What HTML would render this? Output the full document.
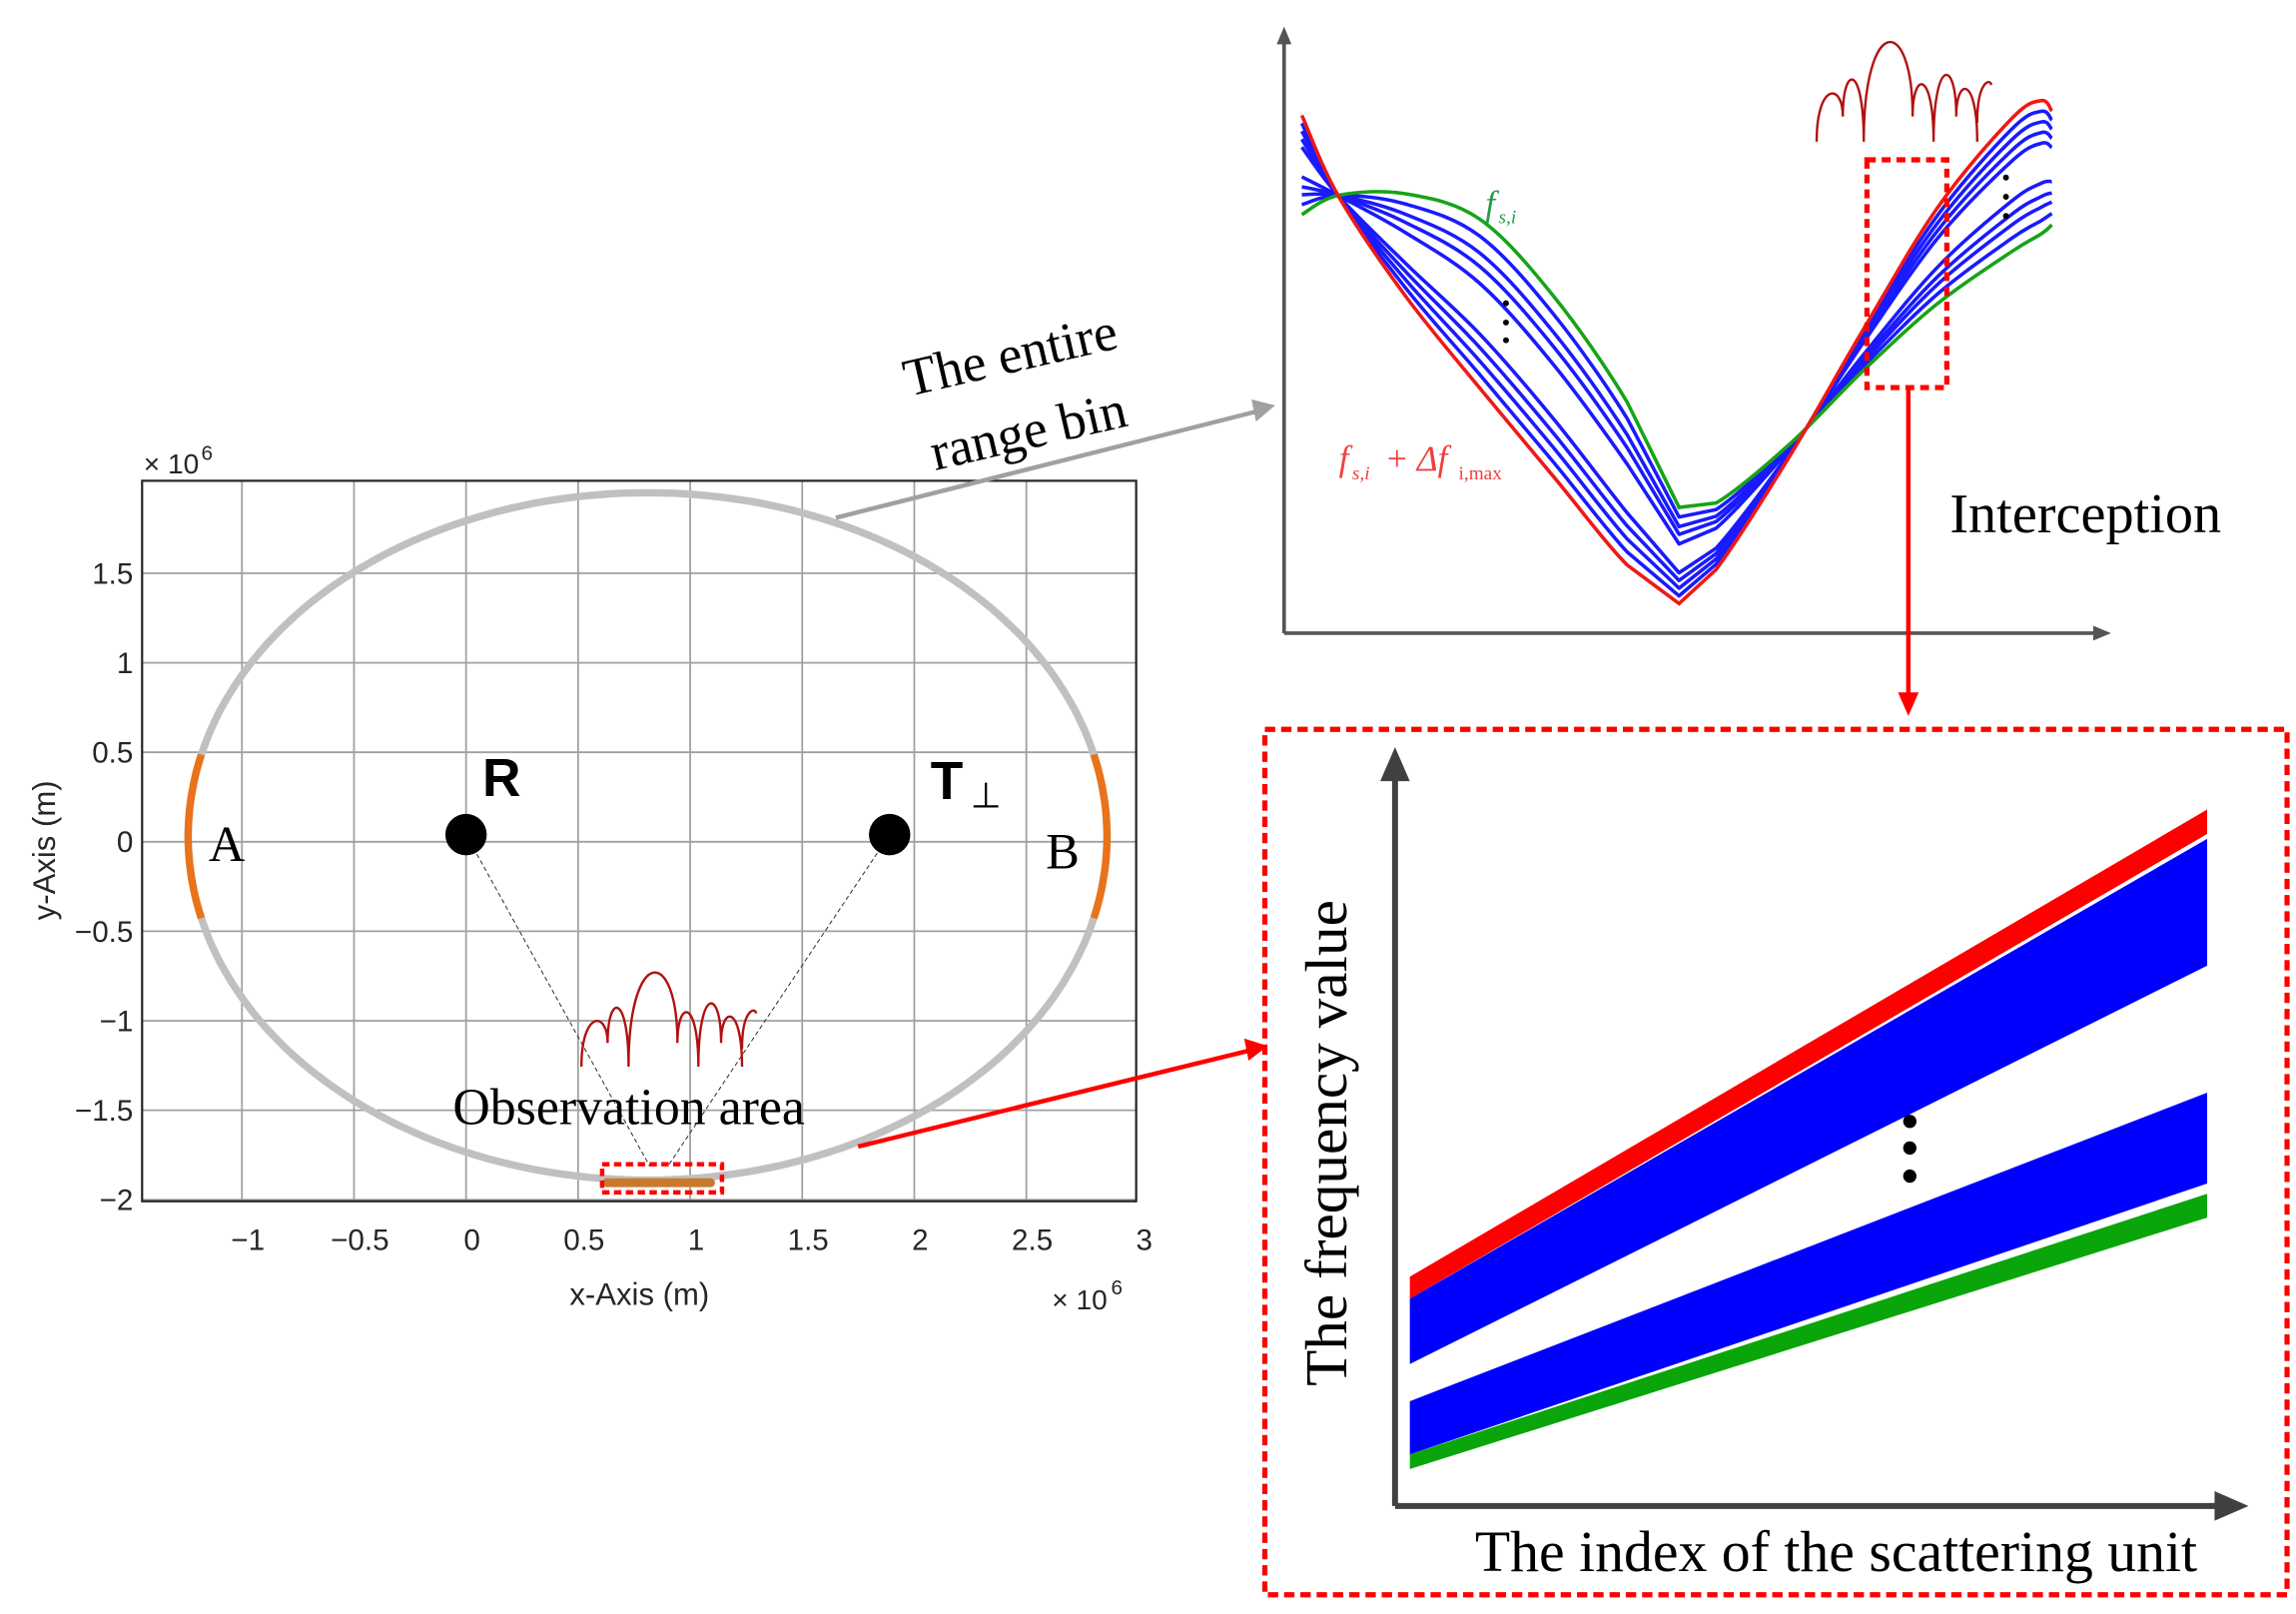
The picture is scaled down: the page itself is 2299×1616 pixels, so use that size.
<!DOCTYPE html>
<html><head><meta charset="utf-8"><style>
html,body{margin:0;padding:0;background:#fff;}
svg{display:block;}
.tk{font-family:"Liberation Sans",sans-serif;}
.sf{font-family:"Liberation Serif",serif;}
</style></head><body>
<svg id="fig" width="2299" height="1616" viewBox="0 0 1552 1091" xmlns="http://www.w3.org/2000/svg">
<g id="left"></g>
<g id="topr"></g>
<g id="botr"></g>
<g id="ann"></g>
</svg>
<script>
const NS="http://www.w3.org/2000/svg";
function mk(p,tag,at,txt){const e=document.createElementNS(NS,tag);for(const k in at)e.setAttribute(k,at[k]);if(txt!==undefined)e.textContent=txt;p.appendChild(e);return e;}

// ---------- left chart data ----------
const xTicks=[-1,-0.5,0,0.5,1,1.5,2,2.5,3];
const xTickLabels=["\u22121","\u22120.5","0","0.5","1","1.5","2","2.5","3"];
const yTicks=[-2,-1.5,-1,-0.5,0,0.5,1,1.5];
const yTickLabels=["\u22122","\u22121.5","\u22121","\u22120.5","0","0.5","1","1.5"];
const ellipseCenter=[0.81,0.03];
const ellipseAxes=[2.05,1.92];
const stationNames=["R","T"];
const stationX=[0,1.89];
const stationY=[0.04,0.04];
const obsCenter=[0.86,-1.88];

const xs=v=>315+v*151.5, ys=v=>569-v*121;
const L=document.getElementById('left');
const A=document.getElementById('ann');
function T(p,x,y,s,cls,st,extra,name){const e=mk(p,'text',Object.assign({x:x,y:y,class:cls,style:st},extra||{}),s);return e;}

xTicks.forEach(t=>{if(t<3){const g=mk(L,'line',{x1:xs(t),x2:xs(t),y1:325,y2:812,stroke:'#a0a0a0','stroke-width':1.2});
}});
yTicks.forEach(t=>{const g=mk(L,'line',{x1:96,x2:768,y1:ys(t),y2:ys(t),stroke:'#a0a0a0','stroke-width':1.2});
});
const fr=mk(L,'rect',{x:96,y:325,width:672,height:487,fill:'none',stroke:'#262626','stroke-width':1.5});

xTicks.forEach((t,i)=>{T(L,xs(t)+4,845,xTickLabels[i],'tk','font-size:20px;fill:#262626',{'text-anchor':'middle'},'x-tick-label');});
yTicks.forEach((t,i)=>{T(L,90,ys(t)+7,yTickLabels[i],'tk','font-size:20px;fill:#262626',{'text-anchor':'end'},'y-tick-label');});

function ept(a){return [xs(ellipseCenter[0]+ellipseAxes[0]*Math.cos(a)),ys(ellipseCenter[1]+ellipseAxes[1]*Math.sin(a))];}
let d='';for(let i=0;i<=200;i++){const p=ept(i/200*2*Math.PI);d+=(i?'L':'M')+p[0].toFixed(1)+','+p[1].toFixed(1);}
const el=mk(L,'path',{d:d+'Z',fill:'none',stroke:'#c0c0c0','stroke-width':5});

function arc(a0,a1){let s='';for(let i=0;i<=30;i++){const p=ept(a0+(a1-a0)*i/30);s+=(i?'L':'M')+p[0].toFixed(1)+','+p[1].toFixed(1);}return s;}
const aA=mk(L,'path',{d:arc(Math.PI-0.24,Math.PI+0.24),fill:'none',stroke:'#e8731a','stroke-width':5});

const aB=mk(L,'path',{d:arc(-0.24,0.24),fill:'none',stroke:'#e8731a','stroke-width':5});

const ox=xs(obsCenter[0]), oy=ys(obsCenter[1]);
stationX.forEach((sx,i)=>{const l=mk(L,'line',{x1:xs(sx),y1:ys(stationY[i]),x2:ox+(i?6:-6),y2:oy-8,stroke:'#333','stroke-width':0.7,'stroke-dasharray':'3,2'});
});
stationX.forEach((sx,i)=>{const c=mk(L,'ellipse',{cx:xs(sx),cy:ys(stationY[i]),rx:14,ry:14,fill:'#000'});
});
const ob=mk(L,'line',{x1:ox-35,y1:oy+3,x2:ox+35,y2:oy+3,stroke:'#c77a2e','stroke-width':6,'stroke-linecap':'round'});

const orr=mk(L,'rect',{x:407,y:787,width:81,height:19,fill:'none',stroke:'#f00','stroke-width':3,'stroke-dasharray':'5,3'});


function lobes(p,x0,y0,w,h){const segs=[[0,0.15,0.45],[0.15,0.27,0.6],[0.27,0.55,1],[0.55,0.67,0.55],[0.67,0.8,0.65],[0.8,0.92,0.5]];
let s='';segs.forEach((g,i)=>{const a=x0+g[0]*w,b=x0+g[1]*w,top=y0+h-h*g[2];const bot=y0+h*(i%2?0.75:0.95);
s+=`M${a},${bot} C${a},${top-6} ${b},${top-6} ${b},${y0+h*(i%2?0.95:0.75)} `;});
s+=`M${x0+0.92*w},${y0+h*0.8} C${x0+0.92*w},${y0+h*0.45} ${x0+w},${y0+h*0.45} ${x0+w},${y0+h*0.5}`;
return mk(p,'path',{d:s,fill:'none',stroke:'#b01010','stroke-width':1.6});}
const lp1=lobes(L,393,645,118,80);

T(A,97,320,'\u00d7 10','tk','font-size:19px;fill:#262626',{},'y-exponent');T(A,136,311,'6','tk','font-size:14px;fill:#262626',{},'y-exponent-power');
T(A,711,885,'\u00d7 10','tk','font-size:19px;fill:#262626',{},'x-exponent');T(A,751,875,'6','tk','font-size:14px;fill:#262626',{},'x-exponent-power');
T(A,385,882,'x-Axis (m)','tk','font-size:21px;fill:#262626',{},'x-axis-title');
T(A,0,0,'y-Axis (m)','tk','font-size:21px;fill:#262626',{transform:'translate(37,622) rotate(-90)'},'y-axis-title');
T(A,141,582,'A','sf','font-size:34px',{},'label-a');
T(A,707,587,'B','sf','font-size:34px',{},'label-b');
T(A,326,538,'R','tk','font-size:36px;font-weight:bold',{},'label-r');
T(A,629,540,'T','tk','font-size:36px;font-weight:bold',{},'label-t');
T(A,656,546,'\u22a5','tk','font-size:24px',{},'label-perp');
T(A,306,760,'Observation area','sf','font-size:35px',{},'observation-label');

// ---------- top-right chart data ----------
const sampleX=[880,905,950,1000,1050,1100,1135,1160,1210,1260,1310,1360,1380,1387];
const redCurve=[78,133,200,262,322,382,408,385,308,222,140,80,68,75];
const greenCurve=[145,132,131,148,200,272,343,340,300,250,205,170,158,152];
const blueMix=[0.08,0.16,0.24,0.32,0.62,0.72,0.8,0.9];
const P=document.getElementById('topr');
const ax1=mk(P,'path',{d:'M868,428 L868,24 M868,428 L1420,428',stroke:'#555','stroke-width':2.5,fill:'none'});

mk(P,'path',{d:'M868,18 L863,30 L873,30Z M1427,428 L1415,423 L1415,433Z',fill:'#555'});
function curve(arr){let s='M'+sampleX[0]+','+arr[0];
for(let i=0;i<arr.length-1;i++){const x0=sampleX[Math.max(i-1,0)],y0=arr[Math.max(i-1,0)],x1=sampleX[i],y1=arr[i],x2=sampleX[i+1],y2=arr[i+1],x3=sampleX[Math.min(i+2,arr.length-1)],y3=arr[Math.min(i+2,arr.length-1)];
const sh=(i===5||i===6)?0:1/6;
s+=` C${(x1+(x2-x0)*sh).toFixed(1)},${(y1+(y2-y0)*sh).toFixed(1)} ${(x2-(x3-x1)*sh).toFixed(1)},${(y2-(y3-y1)*sh).toFixed(1)} ${x2},${y2}`;}
return s;}
blueMix.forEach(t=>{const arr=redCurve.map((r,i)=>r+(greenCurve[i]-r)*t);
const b=mk(P,'path',{d:curve(arr),fill:'none',stroke:'#1a1aff','stroke-width':2.4,'stroke-linejoin':'round'});
});
const gc=mk(P,'path',{d:curve(greenCurve),fill:'none',stroke:'#17a317','stroke-width':2.4});

const rc=mk(P,'path',{d:curve(redCurve),fill:'none',stroke:'#f01818','stroke-width':2.4});

[205,218,230].forEach(y=>mk(P,'circle',{cx:1018,cy:y,r:2,fill:'#000'}));
[120,133,146].forEach(y=>mk(P,'circle',{cx:1356,cy:y,r:2,fill:'#000'}));
const lp2=lobes(P,1228,15,118,85);
const ib=mk(P,'rect',{x:1262,y:108,width:54,height:154,fill:'none',stroke:'#f00','stroke-width':3.5,'stroke-dasharray':'6,4'});

T(A,1004,146,'f','sf','font-size:24px;font-style:italic;fill:#2a9a4a',{},'fsi-label');
T(A,1013,151,'s,i','sf','font-size:13px;font-style:italic;fill:#2a9a4a',{},'fsi-sub');
T(A,905,318,'f','sf','font-size:24px;font-style:italic;fill:#f04040',{},'fsi-max-label');
T(A,914,324,'s,i','sf','font-size:13px;font-style:italic;fill:#f04040',{},'fsi-max-sub');
T(A,936,318,'+ \u0394f','sf','font-size:24px;font-style:italic;fill:#f04040',{},'delta-label');
T(A,986,324,'i,max','sf','font-size:13px;fill:#f04040',{},'delta-sub');
T(A,1318,360,'Interception','sf','font-size:38px',{},'interception-label');
T(A,0,0,'The entire','sf','font-size:36px',{transform:'translate(614,268) rotate(-13)'},'entire-range-label-1');
T(A,0,0,'range bin','sf','font-size:36px',{transform:'translate(632,318) rotate(-13)'},'entire-range-label-2');

const g1=mk(A,'line',{x1:565,y1:350,x2:850,y2:278,stroke:'#a0a0a0','stroke-width':3});

mk(A,'path',{d:'M862,274 L846,270 L849,285Z',fill:'#a0a0a0'});
const r1=mk(A,'line',{x1:580,y1:775,x2:845,y2:710,stroke:'#f00','stroke-width':3});

mk(A,'path',{d:'M857,707 L841,702 L844,717Z',fill:'#f00'});
const r2=mk(A,'line',{x1:1290,y1:262,x2:1290,y2:472,stroke:'#f00','stroke-width':3});

mk(A,'path',{d:'M1290,484 L1283,468 L1297,468Z',fill:'#f00'});

// ---------- bottom-right chart data ----------
const bandNames=['green','blue-lower','blue-upper','red'];
const bandStartBottom=[0.9,3.9,22.4,35.8];
const bandStartTop=[3.9,14.8,35.8,40.3];
const bandEndBottom=[52.4,59.4,104,131];
const bandEndTop=[57.3,78,130,136];
const bandColors=['#0aa50a','#0000ff','#0000ff','#ff0000'];
const B=document.getElementById('botr');
const bx=t=>953+t*539, by=v=>996-v*3.3;
const box=mk(B,'rect',{x:855,y:493,width:691,height:585,fill:'none',stroke:'#f00','stroke-width':3.5,'stroke-dasharray':'7,4'});

bandNames.forEach((n,i)=>{const p=mk(B,'polygon',{points:`${bx(0)},${by(bandStartBottom[i])} ${bx(1)},${by(bandEndBottom[i])} ${bx(1)},${by(bandEndTop[i])} ${bx(0)},${by(bandStartTop[i])}`,fill:bandColors[i]});
});
[758,776,795].forEach(y=>mk(B,'circle',{cx:1291,cy:y,r:4.5,fill:'#000'}));
const ax2=mk(B,'path',{d:'M943,1018 L943,522 M943,1018 L1503,1018',stroke:'#404040','stroke-width':4,fill:'none'});

mk(B,'path',{d:'M943,505 L933,528 L953,528Z M1520,1018 L1497,1008 L1497,1028Z',fill:'#404040'});
T(A,0,0,'The frequency value','sf','font-size:40px',{transform:'translate(910,937) rotate(-90)'},'frequency-axis-title');
T(A,997,1062,'The index of the scattering unit','sf','font-size:39px',{},'index-axis-title');
</script>
</body></html>
